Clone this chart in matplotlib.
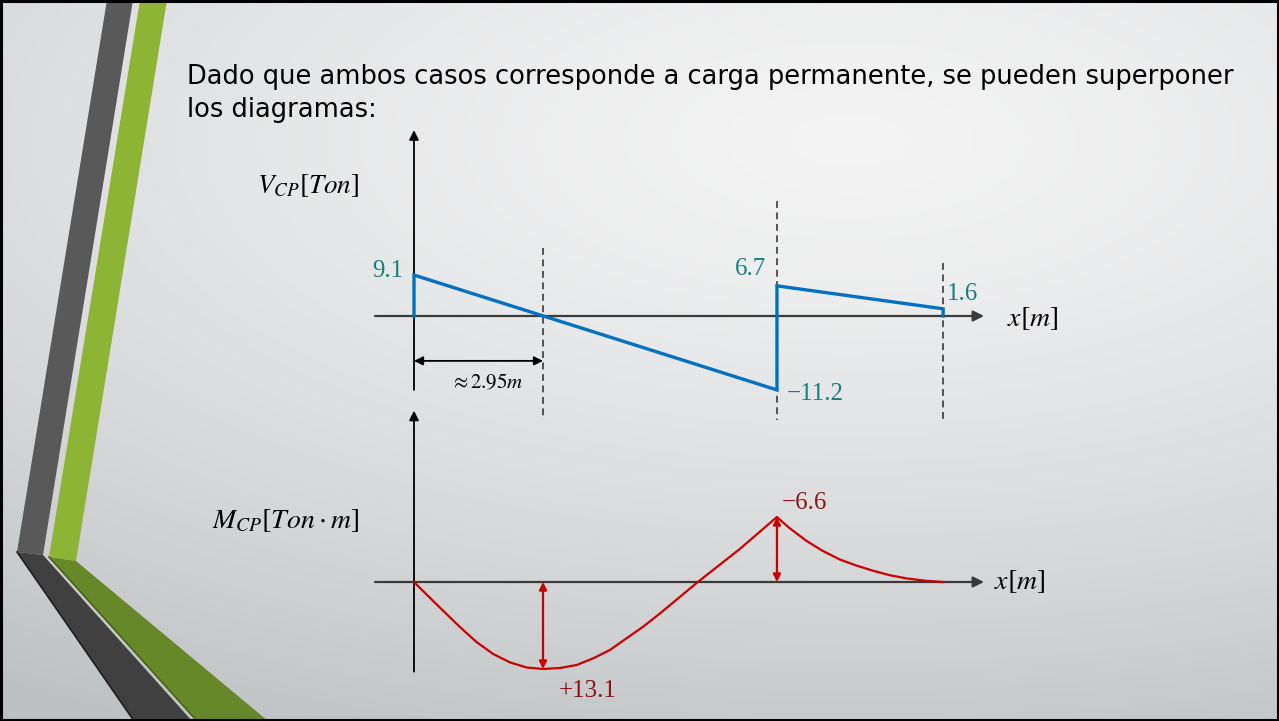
"""
Diagramas de corte y momento por carga permanente (superposicion).
Slide style: gradient background, decorative stripes on the left.
"""

import numpy as np
import matplotlib
matplotlib.use("Agg")
import matplotlib.pyplot as plt
from matplotlib.patches import Polygon, Rectangle
from matplotlib import transforms

plt.rcParams['mathtext.fontset'] = 'stix'

W, H = 1279, 721

# --- data ---
# sections along the beam [m]
x_zero_shear = 2.95
x_support = 8.30
x_end = 12.10

# shear diagram V_CP [Ton]
shear_x = [0.0, 0.0, x_support, x_support, x_end, x_end]
shear_v = [0.0, 9.1, -11.2, 6.7, 1.6, 0.0]

# moment diagram M_CP [Ton m] (positive drawn downwards)
moment_x = [0.0, 0.30, 0.59, 1.05, 1.43, 1.81, 2.20, 2.58, 2.95, 3.34, 3.72,
            4.10, 4.48, 4.86, 5.24, 5.63, 6.49, 7.45, 8.30, 8.44, 8.60, 8.98,
            9.33, 9.74, 10.11, 10.50, 10.88, 11.27, 11.69, 12.10]
moment_m = [0.0, 1.96, 3.84, 6.78, 9.04, 10.84, 12.12, 12.88, 13.1, 12.95, 12.5,
            11.49, 10.24, 8.48, 6.73, 4.71, 0.0, -3.35, -6.6, -6.04, -5.43, -4.16,
            -3.2, -2.28, -1.68, -1.14, -0.69, -0.36, -0.13, 0.0]
m_max = 13.1
m_support = -6.6

title_lines = ["Dado que ambos casos corresponde a carga permanente, se pueden superponer",
               "los diagramas:"]

TEAL = '#17807f'
DARKRED = '#8b1414'
BLUE = '#0070c0'
RED = '#c80000'

# pixel layout of the diagrams
X0_PX = 414          # x = 0 m
PX_PER_M = 43.73


def asym(pos, neg):
    '''piecewise linear scale, the original sketch is not to scale'''
    def fwd(y):
        y = np.asarray(y, dtype=float)
        return np.where(y >= 0, y * pos, y * neg)

    def inv(z):
        z = np.asarray(z, dtype=float)
        return np.where(z >= 0, z / pos, z / neg)
    return fwd, inv


def diagram_axes(fig, top, bottom, zero, pos, neg, flip=False):
    ax = fig.add_axes([0, 1 - bottom / H, 1, (bottom - top) / H])
    ax.set_yscale('function', functions=asym(pos, neg))
    ax.set_xlim(-X0_PX / PX_PER_M, (W - X0_PX) / PX_PER_M)
    if flip:
        ax.set_ylim((bottom - zero) / pos, -(zero - top) / neg)
    else:
        ax.set_ylim(-(bottom - zero) / neg, (zero - top) / pos)
    ax.patch.set_alpha(0)
    ax.axis('off')
    return ax


fig = plt.figure(figsize=(W / 100, H / 100), dpi=100)

# background layer in pixel coordinates
bg = fig.add_axes([0, 0, 1, 1])
bg.set_xlim(0, W)
bg.set_ylim(H, 0)
bg.axis('off')

yy, xx = np.mgrid[0:H, 0:W]
r = np.sqrt(((xx - 850) / 1500.0) ** 2 + ((yy - 140) / 660.0) ** 2)
r = np.clip(r, 0, 1) ** 1.4
c0 = np.array([0.955, 0.955, 0.958])
c1 = np.array([0.745, 0.758, 0.762])
img = c0[None, None, :] * (1 - r[..., None]) + c1[None, None, :] * r[..., None]
bg.imshow(img, extent=(0, W, H, 0), aspect='auto', zorder=0)

# decorative stripes
bg.add_patch(Polygon([(107, 0), (133, 0), (43, 555), (17, 552)], closed=True,
                     fc='#595959', ec='none', zorder=1))
bg.add_patch(Polygon([(140, 0), (167, 0), (76, 561), (49, 557)], closed=True,
                     fc='#8db435', ec='none', zorder=1))
bg.add_patch(Polygon([(17, 552), (43, 555), (192, 721), (134, 721)], closed=True,
                     fc='#404040', ec='none', zorder=1))
bg.plot([17, 134], [552, 721], color='#1e1e1e', lw=1.2, zorder=1)
bg.add_patch(Polygon([(49, 557), (76, 561), (268, 721), (197, 721)], closed=True,
                     fc='#678828', ec='none', zorder=1))
bg.plot([49, 197], [557, 721], color='#4a6218', lw=1.2, zorder=1)
bg.add_patch(Rectangle((1, 1), W - 2, H - 2, fill=False, ec='black', lw=2.2, zorder=5))

for i, line in enumerate(title_lines):
    bg.text(187, 84 + 33 * i, line, fontsize=18.5, family='DejaVu Sans',
            color='black', va='baseline', ha='left', zorder=3)

# axis titles
bg.text(257, 186, r'$V_{CP}[Ton]$', fontsize=19.5, va='center', ha='left', zorder=3)
bg.text(212, 520, r'$M_{CP}[Ton\cdot m]$', fontsize=20, va='center', ha='left', zorder=3)
bg.text(1007, 318, r'$x[m]$', fontsize=20, va='center', ha='left', zorder=3)
bg.text(994, 581, r'$x[m]$', fontsize=20, va='center', ha='left', zorder=3)

ax_v = diagram_axes(fig, 100, 420, 316, 4.5, 6.6)
ax_m = diagram_axes(fig, 400, 721, 582, 6.64, 9.85, flip=True)

# dashed section lines, spanning both diagrams
tr = transforms.blended_transform_factory(ax_v.transData, bg.transData)
dash = dict(color='#2a2a2a', lw=1.1, linestyle=(0, (4.5, 3)), zorder=2)
ax_v.plot([x_zero_shear, x_zero_shear], [248, 703], transform=tr, **dash)
ax_v.plot([x_support, x_support], [201, 657], transform=tr, **dash)
ax_v.plot([x_end, x_end], [263, 657], transform=tr, **dash)

x_left = (375 - X0_PX) / PX_PER_M
x_tip = (984 - X0_PX) / PX_PER_M

# shear diagram
ax_v.annotate('', xy=(x_tip, 0), xytext=(x_left, 0),
              arrowprops=dict(arrowstyle='-|>', color='#3a3a3a', lw=1.6,
                              mutation_scale=16, shrinkA=0, shrinkB=0))
ax_v.annotate('', xy=(0, 41.3), xytext=(0, -11.2),
              arrowprops=dict(arrowstyle='-|>', color='black', lw=1.3,
                              mutation_scale=14, shrinkA=0, shrinkB=0))
ax_v.plot(shear_x, shear_v, color=BLUE, lw=2.4, solid_joinstyle='miter', zorder=4)

lab = dict(fontsize=18, family='Liberation Serif', color=TEAL,
           textcoords='offset pixels', zorder=5)
ax_v.annotate('9.1', xy=(0, shear_v[1]), xytext=(-11, 4), ha='right', va='center', **lab)
ax_v.annotate('6.7', xy=(x_support, shear_v[3]), xytext=(-11, 17), ha='right',
              va='center', **lab)
ax_v.annotate('1.6', xy=(x_end, shear_v[4]), xytext=(4, 15), ha='left',
              va='center', **lab)
ax_v.annotate('\u221211.2', xy=(x_support, shear_v[2]), xytext=(10, -4), ha='left',
              va='center', **lab)

ax_v.annotate('', xy=(x_zero_shear, -6.8), xytext=(0, -6.8),
              arrowprops=dict(arrowstyle='<|-|>', color='black', lw=1.3,
                              mutation_scale=13, shrinkA=0, shrinkB=0))
bg.text(487, 382, r'$\approx 2.95m$', fontsize=15, ha='center', va='center', zorder=3)

# moment diagram
ax_m.annotate('', xy=(x_tip, 0), xytext=(x_left, 0),
              arrowprops=dict(arrowstyle='-|>', color='#3a3a3a', lw=1.6,
                              mutation_scale=16, shrinkA=0, shrinkB=0))
ax_m.annotate('', xy=(0, -17.4), xytext=(0, 13.5),
              arrowprops=dict(arrowstyle='-|>', color='black', lw=1.3,
                              mutation_scale=14, shrinkA=0, shrinkB=0))
ax_m.plot(moment_x, moment_m, color=RED, lw=1.6, solid_joinstyle='round', zorder=4)

red_arrow = dict(arrowstyle='<|-|>', color=RED, lw=1.6, mutation_scale=11,
                 shrinkA=0, shrinkB=0)
ax_m.annotate('', xy=(x_zero_shear, m_max), xytext=(x_zero_shear, 0),
              arrowprops=red_arrow)
ax_m.annotate('', xy=(x_support, m_support), xytext=(x_support, 0),
              arrowprops=red_arrow)

lab_m = dict(fontsize=18, family='Liberation Serif', color=DARKRED,
             textcoords='offset pixels', zorder=5)
ax_m.annotate('+13.1', xy=(x_zero_shear, m_max), xytext=(16, -22), ha='left',
              va='center', **lab_m)
ax_m.annotate('\u22126.6', xy=(x_support, m_support), xytext=(5, 14), ha='left',
              va='center', **lab_m)

fig.savefig('out.png', dpi=100)
